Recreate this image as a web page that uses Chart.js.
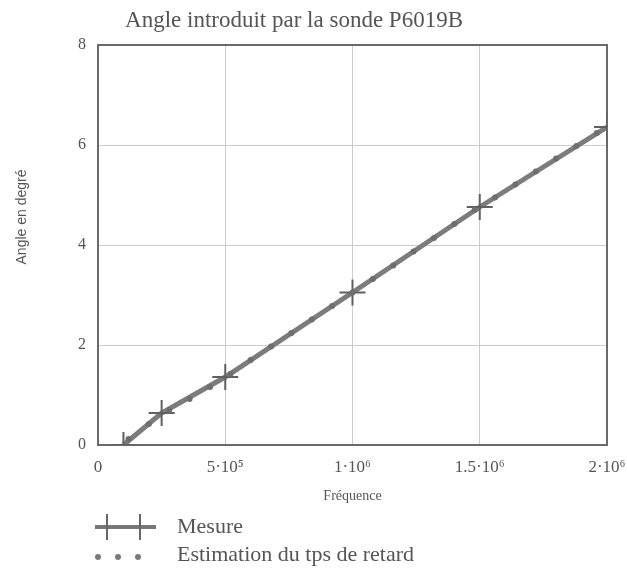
<!DOCTYPE html>
<html>
<head>
<meta charset="utf-8">
<script src="https://cdn.jsdelivr.net/npm/chart.js@4/dist/chart.umd.min.js"></script>
<style>
html,body{margin:0;padding:0;background:#fff;}
canvas{display:block;}
</style>
</head>
<body>
<canvas id="c" width="627" height="582"></canvas>
<script>
// ---- data ----
const freqMesure  = [1e5, 2.5e5, 5e5, 1e6, 1.5e6, 2e6];
const angleMesure = [0, 0.64, 1.36, 3.05, 4.76, 6.36];

const freqEstim  = [1.2e5, 2.0e5, 2.8e5, 3.6e5, 4.4e5, 5.2e5, 6.0e5, 6.8e5, 7.6e5, 8.4e5, 9.2e5, 1.0e6,
                    1.08e6, 1.16e6, 1.24e6, 1.32e6, 1.40e6, 1.48e6, 1.56e6, 1.64e6, 1.72e6, 1.80e6, 1.88e6, 1.96e6];
const angleEstim = [0.12, 0.42, 0.70, 0.92, 1.16, 1.42, 1.70, 1.97, 2.24, 2.51, 2.78, 3.05,
                    3.32, 3.59, 3.87, 4.14, 4.42, 4.70, 4.95, 5.21, 5.47, 5.73, 5.98, 6.24];

const xTickValues = [0, 5e5, 1e6, 1.5e6, 2e6];
const xTickLabels = ['0', '5·10⁵', '1·10⁶', '1.5·10⁶', '2·10⁶'];
const yTickValues = [0, 2, 4, 6, 8];

const titleText = 'Angle introduit par la sonde P6019B';
const yTitleText = 'Angle en degré';
const xTitleText = 'Fréquence';
const seriesNames = ['Mesure', 'Estimation du tps de retard'];

const TEXT = '#555';
const SERIF = '"Liberation Serif", "Times New Roman", serif';

const decor = {
  id: 'decor',
  beforeDatasetsDraw(chart) {
    const {ctx, chartArea: a} = chart;
    ctx.save();
    ctx.strokeStyle = '#6a6a6a';
    ctx.lineWidth = 2;
    ctx.strokeRect(a.left, a.top, a.right - a.left, a.bottom - a.top);
    ctx.restore();
  },
  afterDraw(chart) {
    const ctx = chart.ctx;
    ctx.save();
    ctx.fillStyle = TEXT;
    // title
    ctx.font = '23px ' + SERIF;
    ctx.textAlign = 'center';
    ctx.textBaseline = 'middle';
    ctx.fillText(titleText, 294, 21);
    // y title
    ctx.save();
    ctx.translate(22, 217);
    ctx.rotate(-Math.PI / 2);
    ctx.font = '14px "Liberation Sans", Arial, sans-serif';
    ctx.fillText(yTitleText, 0, 0);
    ctx.restore();
    // legend
    const y1 = 527, y2 = 555;
    ctx.strokeStyle = '#777';
    ctx.lineWidth = 4;
    ctx.beginPath(); ctx.moveTo(95, y1); ctx.lineTo(156, y1); ctx.stroke();
    ctx.strokeStyle = '#666';
    ctx.lineWidth = 2;
    [107, 140].forEach(x => {
      ctx.beginPath();
      ctx.moveTo(x, y1 - 13); ctx.lineTo(x, y1 + 13);
      ctx.stroke();
    });
    ctx.fillStyle = '#7a7a7a';
    [98, 118, 138].forEach(x => {
      ctx.beginPath(); ctx.arc(x, y2 + 2, 3, 0, Math.PI * 2); ctx.fill();
    });
    ctx.fillStyle = TEXT;
    ctx.textAlign = 'left';
    ctx.font = '22px ' + SERIF;
    ctx.fillText(seriesNames[0], 177, y1);
    ctx.fillText(seriesNames[1], 177, y2);
    ctx.restore();
  }
};

new Chart(document.getElementById('c'), {
  type: 'line',
  data: {
    datasets: [
      {
        label: seriesNames[1],
        data: freqEstim.map((f, i) => ({x: f, y: angleEstim[i]})),
        showLine: false,
        pointRadius: 3,
        pointBackgroundColor: '#6e6e6e',
        pointBorderWidth: 0,
        order: 0
      },
      {
        label: seriesNames[0],
        data: freqMesure.map((f, i) => ({x: f, y: angleMesure[i]})),
        borderColor: '#7c7c7c',
        borderWidth: 5,
        tension: 0,
        pointStyle: 'cross',
        pointRadius: 13,
        pointBorderWidth: 2,
        pointBorderColor: '#606060',
        order: 1
      }
    ]
  },
  options: {
    responsive: false,
    animation: false,
    devicePixelRatio: 1,
    layout: {padding: {top: 45, right: 20, bottom: 77, left: 0}},
    plugins: {legend: {display: false}, tooltip: {enabled: false}},
    scales: {
      x: {
        type: 'linear',
        min: 0, max: 2e6,
        afterBuildTicks: s => { s.ticks = xTickValues.map(v => ({value: v})); },
        afterFit: s => { s.paddingLeft = 0; s.paddingRight = 0; s.height = 60; },
        grid: {color: '#cccccc', lineWidth: 1, drawTicks: false},
        border: {display: false},
        ticks: {
          autoSkip: false, maxRotation: 0, padding: 12,
          color: TEXT, font: {family: SERIF, size: 17},
          callback: v => { const i = xTickValues.indexOf(v); return i >= 0 ? xTickLabels[i] : ''; }
        },
        title: {display: true, text: xTitleText, color: TEXT, font: {family: SERIF, size: 14}, padding: 0}
      },
      y: {
        min: 0, max: 8,
        afterBuildTicks: s => { s.ticks = yTickValues.map(v => ({value: v})); },
        afterFit: s => { s.width = 98; s.paddingTop = 0; s.paddingBottom = 0; },
        grid: {color: '#cccccc', lineWidth: 1, drawTicks: false},
        border: {display: false},
        ticks: {padding: 12, color: TEXT, font: {family: SERIF, size: 16}}
      }
    }
  },
  plugins: [decor]
});
</script>
</body>
</html>
